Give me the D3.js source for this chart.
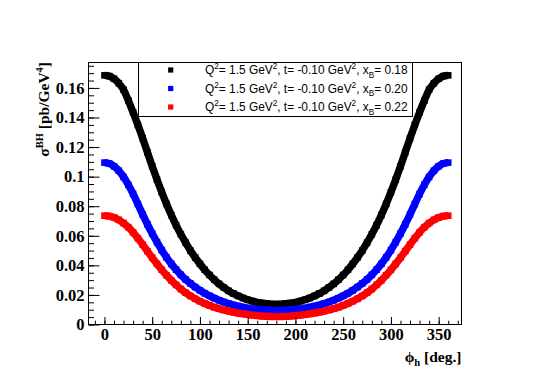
<!DOCTYPE html>
<html><head><meta charset="utf-8">
<script src="https://cdn.jsdelivr.net/npm/d3@7"></script>
<style>body{margin:0;background:#fff}svg{display:block}</style>
</head><body><svg id="c" width="550" height="387"></svg>
<script>
// phi_h in degrees (5 degree steps)
const phiDeg = d3.range(0, 361, 5);
// sigma^BH [pb/GeV^4]
const sigmaXB018 = [0.1685,0.1680,0.1662,0.1632,0.1588,0.1515,0.1435,0.1350,0.1260,0.1165,0.1070,0.0980,0.0895,0.0815,0.0740,0.0672,0.0610,0.0553,0.0500,0.0453,0.0410,0.0370,0.0335,0.0303,0.0275,0.0250,0.0228,0.0209,0.0193,0.0179,0.0167,0.0158,0.0150,0.0145,0.0141,0.0138,0.0137,
  0.0138,0.0141,0.0145,0.0150,0.0158,0.0167,0.0179,0.0193,0.0209,0.0228,0.0250,0.0275,0.0303,0.0335,0.0370,0.0410,0.0453,0.0500,0.0553,0.0610,0.0672,0.0740,0.0815,0.0895,0.0980,0.1070,0.1165,0.1260,0.1350,0.1435,0.1515,0.1588,0.1632,0.1662,0.1680,0.1685];
const sigmaXB020 = [0.1095,0.1089,0.1070,0.1040,0.0998,0.0945,0.0883,0.0815,0.0745,0.0678,0.0615,0.0557,0.0503,0.0454,0.0410,0.0371,0.0336,0.0305,0.0278,0.0253,0.0231,0.0211,0.0194,0.0178,0.0164,0.0152,0.0141,0.0132,0.0124,0.0117,0.0111,0.0106,0.0102,0.0099,0.0097,0.0095,0.0095,
  0.0095,0.0097,0.0099,0.0102,0.0106,0.0111,0.0117,0.0124,0.0132,0.0141,0.0152,0.0164,0.0178,0.0194,0.0211,0.0231,0.0253,0.0278,0.0305,0.0336,0.0371,0.0410,0.0454,0.0503,0.0557,0.0615,0.0678,0.0745,0.0815,0.0883,0.0945,0.0998,0.1040,0.1070,0.1089,0.1095];
const sigmaXB022 = [0.0736,0.0733,0.0724,0.0708,0.0686,0.0658,0.0623,0.0583,0.0540,0.0496,0.0452,0.0410,0.0370,0.0333,0.0299,0.0268,0.0240,0.0215,0.0193,0.0174,0.0157,0.0142,0.0129,0.0117,0.0107,0.0098,0.0090,0.0083,0.0077,0.0072,0.0067,0.0063,0.0060,0.0057,0.0055,0.0054,0.0053,
  0.0054,0.0055,0.0057,0.0060,0.0063,0.0067,0.0072,0.0077,0.0083,0.0090,0.0098,0.0107,0.0117,0.0129,0.0142,0.0157,0.0174,0.0193,0.0215,0.0240,0.0268,0.0299,0.0333,0.0370,0.0410,0.0452,0.0496,0.0540,0.0583,0.0623,0.0658,0.0686,0.0708,0.0724,0.0733,0.0736];
const xBValues = ["0.18","0.20","0.22"];
const seriesColors = ["#000000","#0000ff","#ff0000"];
const xTickValues = [0,50,100,150,200,250,300,350];
const xTickLabels = ["0","50","100","150","200","250","300","350"];
const yTickValues = [0,0.02,0.04,0.06,0.08,0.1,0.12,0.14,0.16];
const yTickLabels = ["0","0.02","0.04","0.06","0.08","0.1","0.12","0.14","0.16"];

const series = [sigmaXB018, sigmaXB020, sigmaXB022];

const svg = d3.select("#c");
const L = 88.5, R = 461.5, T = 62.5, B = 324.5;
const x = d3.scaleLinear().domain([-16.7, 373.9]).range([L, R]);
const y = d3.scaleLinear().domain([0, 0.1772]).range([B, T]);
const serif = "'Liberation Serif','Times New Roman',serif";
const sans = "'Liberation Sans',Arial,Helvetica,sans-serif";

svg.append("rect").attr("width",550).attr("height",387).attr("fill","#fff");

// data
const sq = 6.6;
series.forEach((vals, k) => {
  const pts = phiDeg.map((p, i) => [p, vals[i]]);
  const line = d3.line().x(d => x(d[0])).y(d => y(d[1])).curve(d3.curveMonotoneX);
  svg.append("path").datum(pts).attr("d", line).attr("fill","none")
    .attr("stroke", seriesColors[k]).attr("stroke-width", 7.4).attr("stroke-linejoin","round");
  svg.append("g").selectAll("rect").data(pts).join("rect")
    .attr("x", d => x(d[0]) - sq/2).attr("y", d => y(d[1]) - sq/2)
    .attr("width", sq).attr("height", sq).attr("fill", seriesColors[k]);
});

// frame
svg.append("rect").attr("x",L).attr("y",T).attr("width",R-L).attr("height",B-T)
  .attr("fill","none").attr("stroke","#000").attr("stroke-width",1);

// x axis
const gx = svg.append("g").attr("transform",`translate(0,${B})`);
gx.call(d3.axisBottom(x).tickValues(xTickValues).tickSizeInner(-7.5).tickSizeOuter(0).tickPadding(4)
  .tickFormat((d,i) => xTickLabels[i]));
gx.append("g").call(d3.axisBottom(x).tickValues(d3.range(-10, 371, 10)).tickSizeInner(-3.8).tickSizeOuter(0).tickFormat(""));
gx.selectAll(".domain").remove();
gx.selectAll("text").attr("font-family", serif).attr("font-weight","bold").attr("font-size","16.5px").attr("fill","#000");

// y axis
const gy = svg.append("g").attr("transform",`translate(${L},0)`);
gy.call(d3.axisLeft(y).tickValues(yTickValues).tickSizeInner(-11).tickSizeOuter(0).tickPadding(4)
  .tickFormat((d,i) => yTickLabels[i]));
gy.append("g").call(d3.axisLeft(y).tickValues(d3.range(0, 0.1771, 0.005)).tickSizeInner(-5.5).tickSizeOuter(0).tickFormat(""));
gy.selectAll(".domain").remove();
gy.selectAll("text").attr("font-family", serif).attr("font-weight","bold").attr("font-size","16.5px").attr("fill","#000");
svg.selectAll(".tick line").attr("stroke","#000");

// legend
const lg = svg.append("g");
lg.append("rect").attr("x",138.5).attr("y",T).attr("width",412.5-138.5).attr("height",116.5-T)
  .attr("fill","#fff").attr("stroke","#000").attr("stroke-width",1);
const rowY = [70, 88.5, 107];
xBValues.forEach((xb, k) => {
  lg.append("rect").attr("x",170.7-2.6).attr("y",rowY[k]-2.6).attr("width",5.2).attr("height",5.2).attr("fill",seriesColors[k]);
  const t = lg.append("text").attr("x",205).attr("y",rowY[k]+4.4)
    .attr("font-family",sans).attr("font-size","11.9px").attr("fill","#000");
  t.append("tspan").text("Q");
  t.append("tspan").attr("dy",-5).attr("font-size","8.2px").text("2");
  t.append("tspan").attr("dy",5).text("= 1.5 GeV");
  t.append("tspan").attr("dy",-5).attr("font-size","8.2px").text("2");
  t.append("tspan").attr("dy",5).text(", t= -0.10 GeV");
  t.append("tspan").attr("dy",-5).attr("font-size","8.2px").text("2");
  t.append("tspan").attr("dy",5).text(", x");
  t.append("tspan").attr("dy",3.5).attr("font-size","8.2px").text("B");
  t.append("tspan").attr("dy",-3.5).text("= " + xb);
});

// y title
const yt = svg.append("text").attr("transform","translate(49,62) rotate(-90)").attr("text-anchor","end")
  .attr("font-family",serif).attr("font-weight","bold").attr("font-size","15.5px").attr("fill","#000");
yt.append("tspan").text("σ");
yt.append("tspan").attr("dy",-6).attr("font-size","10.5px").text("BH");
yt.append("tspan").attr("dy",6).text(" [pb/GeV");
yt.append("tspan").attr("dy",-6).attr("font-size","10.5px").text("4");
yt.append("tspan").attr("dy",6).text("]");

// x title
const xt = svg.append("text").attr("x",461.5).attr("y",361.5).attr("text-anchor","end")
  .attr("font-family",serif).attr("font-weight","bold").attr("font-size","15.5px").attr("fill","#000");
xt.append("tspan").text("ϕ");
xt.append("tspan").attr("dy",4).attr("font-size","10.5px").text("h");
xt.append("tspan").attr("dy",-4).text(" [deg.]");
</script></body></html>
